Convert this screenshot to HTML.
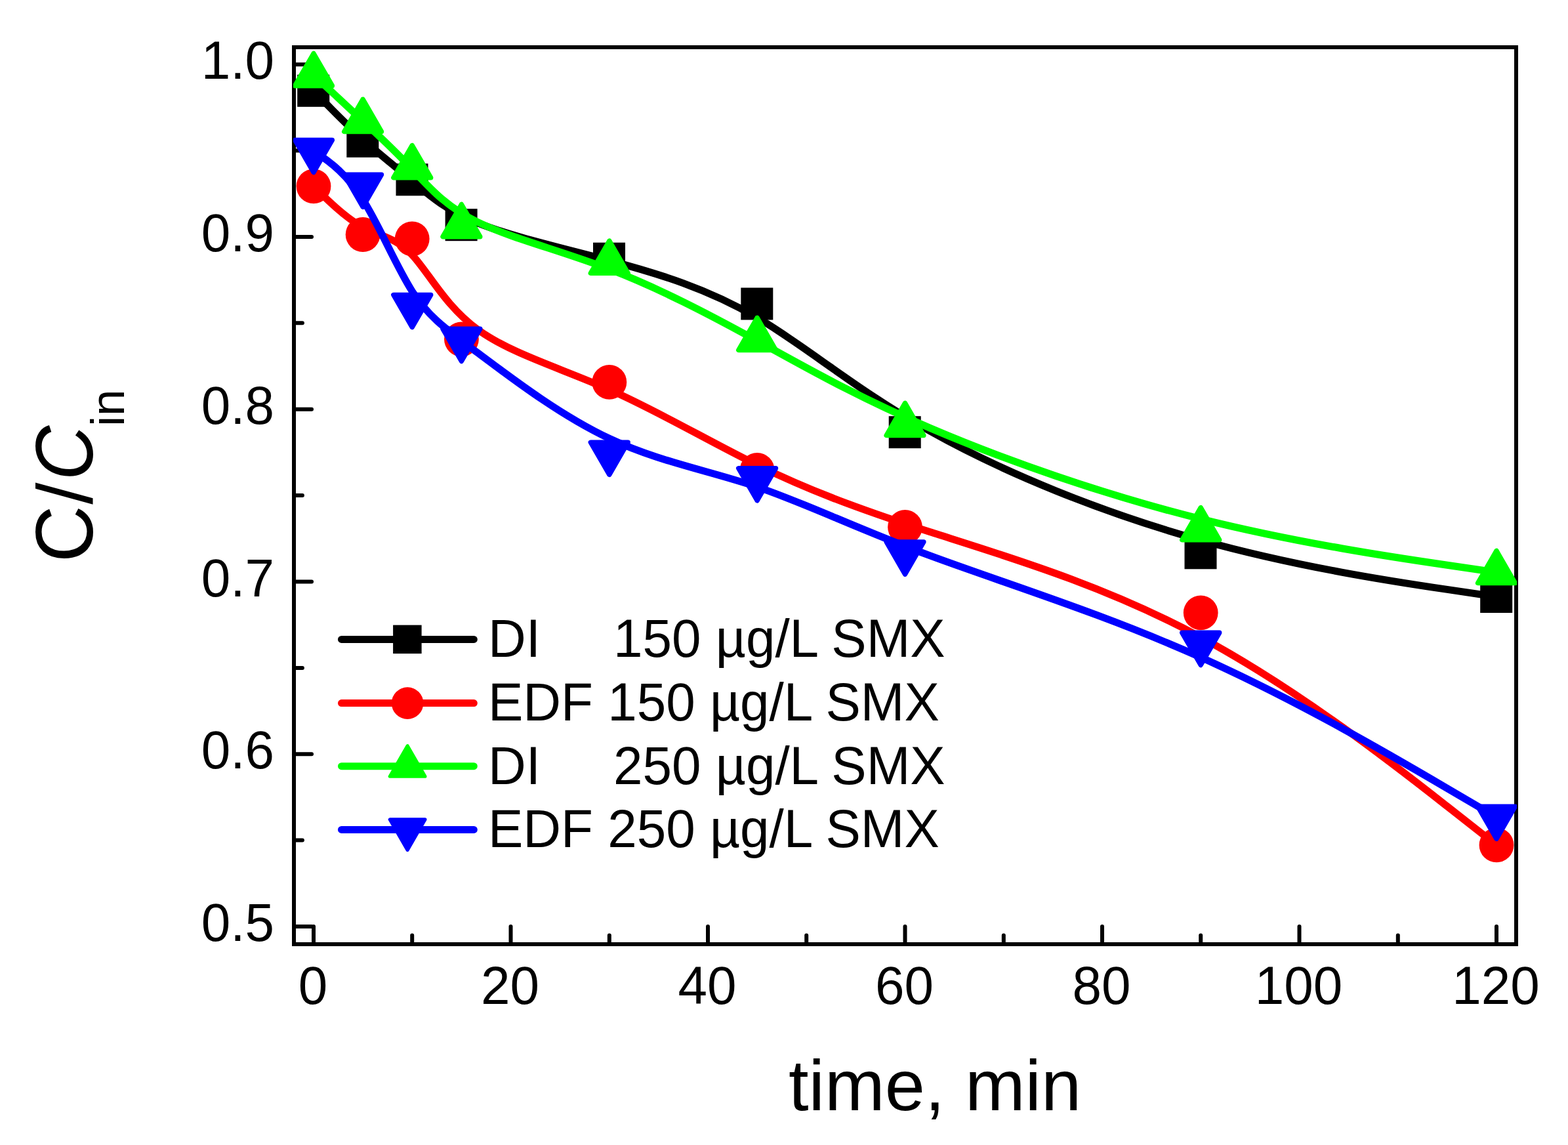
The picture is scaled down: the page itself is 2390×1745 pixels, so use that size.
<!DOCTYPE html>
<html><head><meta charset="utf-8"><title>C/Cin vs time</title>
<style>
html,body{margin:0;padding:0;background:#fff;}
body{width:2390px;height:1745px;overflow:hidden;}
svg{display:block;}
text{font-family:"Liberation Sans",Arial,Helvetica,sans-serif;fill:#000;}
</style></head><body>
<svg width="2390" height="1745" viewBox="0 0 2390 1745">
<rect width="2390" height="1745" fill="#fff"/>
<defs><clipPath id="pc"><rect x="447.0" y="72.0" width="1865.0" height="1367.0"/></clipPath></defs>
<g stroke="#000" stroke-width="6" fill="none" stroke-linecap="round">
<rect x="448.0" y="72.0" width="1863.0" height="1367.0" stroke-linejoin="miter"/>
<line x1="478.0" y1="1439.0" x2="478.0" y2="1412.0"/>
<line x1="628.2" y1="1439.0" x2="628.2" y2="1425.4"/>
<line x1="778.5" y1="1439.0" x2="778.5" y2="1412.0"/>
<line x1="928.8" y1="1439.0" x2="928.8" y2="1425.4"/>
<line x1="1079.0" y1="1439.0" x2="1079.0" y2="1412.0"/>
<line x1="1229.2" y1="1439.0" x2="1229.2" y2="1425.4"/>
<line x1="1379.5" y1="1439.0" x2="1379.5" y2="1412.0"/>
<line x1="1529.8" y1="1439.0" x2="1529.8" y2="1425.4"/>
<line x1="1680.0" y1="1439.0" x2="1680.0" y2="1412.0"/>
<line x1="1830.2" y1="1439.0" x2="1830.2" y2="1425.4"/>
<line x1="1980.5" y1="1439.0" x2="1980.5" y2="1412.0"/>
<line x1="2130.8" y1="1439.0" x2="2130.8" y2="1425.4"/>
<line x1="2281.0" y1="1439.0" x2="2281.0" y2="1412.0"/>
<line x1="448.0" y1="1412.0" x2="475.0" y2="1412.0"/>
<line x1="448.0" y1="1280.6" x2="460.9" y2="1280.6"/>
<line x1="448.0" y1="1149.2" x2="475.0" y2="1149.2"/>
<line x1="448.0" y1="1017.9" x2="460.9" y2="1017.9"/>
<line x1="448.0" y1="886.5" x2="475.0" y2="886.5"/>
<line x1="448.0" y1="755.1" x2="460.9" y2="755.1"/>
<line x1="448.0" y1="623.7" x2="475.0" y2="623.7"/>
<line x1="448.0" y1="492.3" x2="460.9" y2="492.3"/>
<line x1="448.0" y1="361.0" x2="475.0" y2="361.0"/>
<line x1="448.0" y1="229.6" x2="460.9" y2="229.6"/>
<line x1="448.0" y1="98.2" x2="475.0" y2="98.2"/>
</g>
<g font-size="80" text-anchor="middle">
<text transform="translate(477.0,1530.2) scale(1,1.02)">0</text>
<text transform="translate(777.5,1530.2) scale(1,1.02)">20</text>
<text transform="translate(1078.0,1530.2) scale(1,1.02)">40</text>
<text transform="translate(1378.5,1530.2) scale(1,1.02)">60</text>
<text transform="translate(1679.0,1530.2) scale(1,1.02)">80</text>
<text transform="translate(1979.5,1530.2) scale(1,1.02)">100</text>
<text transform="translate(2280.0,1530.2) scale(1,1.02)">120</text>
</g>
<g font-size="80" text-anchor="end">
<text transform="translate(418,1434.2) scale(1,1.02)">0.5</text>
<text transform="translate(418,1171.4) scale(1,1.02)">0.6</text>
<text transform="translate(418,908.7) scale(1,1.02)">0.7</text>
<text transform="translate(418,645.9) scale(1,1.02)">0.8</text>
<text transform="translate(418,383.2) scale(1,1.02)">0.9</text>
<text transform="translate(418,120.4) scale(1,1.02)">1.0</text>
</g>
<text x="1202" y="1692.4" font-size="110">time, min</text>
<g font-size="120">
<text transform="translate(140.6,857) rotate(-90) scale(1,1.04)">C</text>
<text transform="translate(140.3,768.8) rotate(-90) scale(1,0.99)">/</text>
<text transform="translate(140.6,731.9) rotate(-90) scale(0.961,1.04)" font-style="italic">C</text>
<text transform="translate(189.1,650.1) rotate(-90)" font-size="73">in</text>
</g>
<g clip-path="url(#pc)">
<g fill="#000" stroke="#000" stroke-linejoin="round">
<path d="M478.0,138.3 C478.0,138.3 478.0,138.3 490.5,151.2 C503.0,164.0 528.1,189.7 553.1,212.3 C578.2,234.9 603.2,254.3 628.2,275.6 C653.3,296.8 678.3,319.7 728.4,339.8 C778.5,359.9 853.6,377.0 928.8,397.1 C1003.9,417.1 1079.0,440.1 1154.1,484.1 C1229.2,528.2 1304.4,593.5 1417.1,656.8 C1529.8,720.1 1680.0,781.4 1830.2,823.2 C1980.5,865.0 2130.8,887.3 2205.9,898.4 C2281.0,909.5 2281.0,909.5 2281.0,909.5" fill="none" stroke-width="11" stroke-linecap="round"/>
<g stroke-width="0">
<rect x="453.2" y="113.8" width="49.0" height="49.0"/>
<rect x="528.3" y="190.9" width="49.0" height="49.0"/>
<rect x="603.5" y="249.3" width="49.0" height="49.0"/>
<rect x="678.6" y="318.2" width="49.0" height="49.0"/>
<rect x="904.0" y="369.7" width="49.0" height="49.0"/>
<rect x="1129.3" y="438.5" width="49.0" height="49.0"/>
<rect x="1354.7" y="634.2" width="49.0" height="49.0"/>
<rect x="1805.5" y="818.3" width="49.0" height="49.0"/>
<rect x="2256.2" y="885.0" width="49.0" height="49.0"/>
</g></g>
<g fill="#f00" stroke="#f00" stroke-linejoin="round">
<path d="M478.0,283.8 C478.0,283.8 478.0,283.8 490.5,296.1 C503.0,308.4 528.1,332.9 553.1,346.3 C578.2,359.7 603.2,361.8 628.2,388.4 C653.3,415.0 678.3,466.0 728.4,502.4 C778.5,538.8 853.6,560.6 928.8,593.8 C1003.9,627.1 1079.0,671.7 1154.1,708.6 C1229.2,745.4 1304.4,774.3 1417.1,810.6 C1529.8,846.8 1680.0,890.3 1830.2,971.1 C1980.5,1051.8 2130.8,1169.9 2205.9,1228.9 C2281.0,1287.9 2281.0,1287.9 2281.0,1287.9" fill="none" stroke-width="11" stroke-linecap="round"/>
<g stroke-width="0">
<circle cx="478.0" cy="283.8" r="26.4"/>
<circle cx="553.1" cy="357.5" r="26.4"/>
<circle cx="628.2" cy="364.0" r="26.4"/>
<circle cx="703.4" cy="517.0" r="26.4"/>
<circle cx="928.8" cy="582.4" r="26.4"/>
<circle cx="1154.1" cy="716.4" r="26.4"/>
<circle cx="1379.5" cy="803.3" r="26.4"/>
<circle cx="1830.2" cy="933.8" r="26.4"/>
<circle cx="2281.0" cy="1287.9" r="26.4"/>
</g></g>
<g fill="#0f0" stroke="#0f0" stroke-linejoin="round">
<path d="M478.0,114.3 C478.0,114.3 478.0,114.3 490.5,125.9 C503.0,137.6 528.1,160.8 553.1,184.2 C578.2,207.5 603.2,231.0 628.2,257.7 C653.3,284.4 678.3,314.3 728.4,338.6 C778.5,362.9 853.6,381.4 928.8,410.2 C1003.9,439.0 1079.0,478.1 1154.1,519.3 C1229.2,560.5 1304.4,603.8 1417.1,652.1 C1529.8,700.3 1680.0,753.3 1830.2,790.8 C1980.5,828.3 2130.8,850.3 2205.9,861.2 C2281.0,872.2 2281.0,872.2 2281.0,872.2" fill="none" stroke-width="11" stroke-linecap="round"/>
<g stroke-width="0">
<path d="M478.0,81.5 L449.6,130.7 L506.4,130.7 Z" stroke-width="7.4"/>
<path d="M553.1,151.3 L524.7,200.5 L581.5,200.5 Z" stroke-width="7.4"/>
<path d="M628.2,221.6 L599.8,270.8 L656.7,270.8 Z" stroke-width="7.4"/>
<path d="M703.4,311.5 L675.0,360.7 L731.8,360.7 Z" stroke-width="7.4"/>
<path d="M928.8,367.2 L900.3,416.4 L957.2,416.4 Z" stroke-width="7.4"/>
<path d="M1154.1,484.3 L1125.7,533.5 L1182.5,533.5 Z" stroke-width="7.4"/>
<path d="M1379.5,614.4 L1351.1,663.6 L1407.9,663.6 Z" stroke-width="7.4"/>
<path d="M1830.2,773.6 L1801.8,822.8 L1858.7,822.8 Z" stroke-width="7.4"/>
<path d="M2281.0,839.4 L2252.6,888.6 L2309.4,888.6 Z" stroke-width="7.4"/>
</g></g>
<g fill="#00f" stroke="#00f" stroke-linejoin="round">
<path d="M478.0,229.8 C478.0,229.8 478.0,229.8 490.5,238.6 C503.0,247.4 528.1,264.9 553.1,304.3 C578.2,343.6 603.2,404.7 628.2,443.9 C653.3,483.1 678.3,500.4 728.4,537.9 C778.5,575.3 853.6,632.9 928.8,668.3 C1003.9,703.7 1079.0,716.8 1154.1,742.1 C1229.2,767.5 1304.4,804.9 1417.1,846.7 C1529.8,888.5 1680.0,934.6 1830.2,1001.8 C1980.5,1069.0 2130.8,1157.3 2205.9,1201.4 C2281.0,1245.6 2281.0,1245.6 2281.0,1245.6" fill="none" stroke-width="11" stroke-linecap="round"/>
<g stroke-width="0">
<path d="M478.0,262.6 L449.6,213.4 L506.4,213.4 Z" stroke-width="7.4"/>
<path d="M553.1,315.3 L524.7,266.1 L581.5,266.1 Z" stroke-width="7.4"/>
<path d="M628.2,498.6 L599.8,449.4 L656.7,449.4 Z" stroke-width="7.4"/>
<path d="M703.4,550.5 L675.0,501.3 L731.8,501.3 Z" stroke-width="7.4"/>
<path d="M928.8,723.3 L900.3,674.1 L957.2,674.1 Z" stroke-width="7.4"/>
<path d="M1154.1,762.8 L1125.7,713.6 L1182.5,713.6 Z" stroke-width="7.4"/>
<path d="M1379.5,875.2 L1351.1,826.0 L1407.9,826.0 Z" stroke-width="7.4"/>
<path d="M1830.2,1013.5 L1801.8,964.3 L1858.7,964.3 Z" stroke-width="7.4"/>
<path d="M2281.0,1278.4 L2252.6,1229.2 L2309.4,1229.2 Z" stroke-width="7.4"/>
</g></g>
</g>
<g fill="#000" stroke="#000" stroke-linejoin="round">
<line x1="520.5" y1="974.4" x2="722.3" y2="974.4" stroke-width="11" stroke-linecap="round"/>
<g stroke-width="0">
<rect x="599.1" y="952.6" width="43.5" height="43.5"/>
</g></g>
<text transform="translate(744,1000.8) scale(1,1.025)" font-size="80" xml:space="preserve" style="white-space:pre">DI     150 µg/L SMX</text>
<g fill="#f00" stroke="#f00" stroke-linejoin="round">
<line x1="520.5" y1="1071.6" x2="722.3" y2="1071.6" stroke-width="11" stroke-linecap="round"/>
<g stroke-width="0">
<circle cx="621.1" cy="1071.6" r="24.3"/>
</g></g>
<text transform="translate(744,1098.0) scale(1,1.025)" font-size="80" xml:space="preserve" style="white-space:pre">EDF 150 µg/L SMX</text>
<g fill="#0f0" stroke="#0f0" stroke-linejoin="round">
<line x1="520.5" y1="1167.7" x2="722.3" y2="1167.7" stroke-width="11" stroke-linecap="round"/>
<g stroke-width="0">
<path d="M621.1,1136.7 L594.3,1183.2 L647.9,1183.2 Z" stroke-width="5.2"/>
</g></g>
<text transform="translate(744,1194.7) scale(1,1.025)" font-size="80" xml:space="preserve" style="white-space:pre">DI     250 µg/L SMX</text>
<g fill="#00f" stroke="#00f" stroke-linejoin="round">
<line x1="520.5" y1="1264.4" x2="722.3" y2="1264.4" stroke-width="11" stroke-linecap="round"/>
<g stroke-width="0">
<path d="M621.1,1295.4 L594.3,1248.9 L647.9,1248.9 Z" stroke-width="5.2"/>
</g></g>
<text transform="translate(744,1290.8) scale(1,1.025)" font-size="80" xml:space="preserve" style="white-space:pre">EDF 250 µg/L SMX</text>
</svg></body></html>
